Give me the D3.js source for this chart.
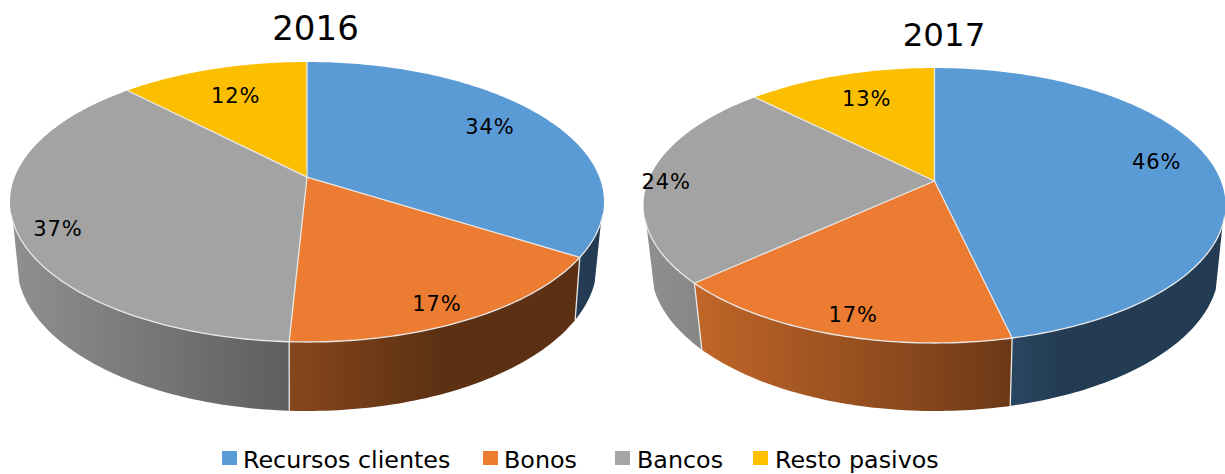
<!DOCTYPE html>
<html><head><meta charset="utf-8">
<script src="https://cdn.jsdelivr.net/npm/d3@7/dist/d3.min.js"></script>
<style>html,body{margin:0;padding:0;background:#fff}svg{display:block}text{font-family:"DejaVu Sans",sans-serif;fill:#000}</style>
</head><body>
<svg id="c" width="1225" height="474"></svg>
<script>
const categories = ["Recursos clientes","Bonos","Bancos","Resto pasivos"];
const values2016 = [34.0,16.8,37.0,12.2];
const values2017 = [46.4,16.8,24.3,12.5];
const colors = ["#5A9AD5","#EB7C31","#A3A3A3","#FCBE00"];
const legendColors = ["#5B9BD5","#ED7D31","#A5A5A5","#FFC000"];

const layouts = [
 {title:"2016", values:values2016, titleX:315.5, titleY:40, titleSize:34,
  top:{cx:307,cy:202,rx:297,ry:140,e:-0.178}, bottom:{cx:307,cy:264,rx:290,ry:147,e:-0.195},
  labels:[[.78,-1.9],[.884,1.8],[.874,-3.6],[.73,0]]},
 {title:"2017", values:values2017, titleX:944, titleY:46, titleSize:32.5,
  top:{cx:934.5,cy:205.5,rx:291,ry:137.5,e:-0.178}, bottom:{cx:935,cy:268,rx:284,ry:143,e:-0.17},
  labels:[[.811,-4.3],[.885,-1.5],[.936,-1.6],[.743,1.5]]}
];
const legendLayout = [{sq:222,tx:243},{sq:483,tx:504},{sq:615,tx:637},{sq:753,tx:775}];

const svg = d3.select("#c");
const defs = svg.append("defs");
const RAD = Math.PI/180;
const visFrom = 108.2*RAD, visTo = 251.8*RAD;
const edge = "#e8e8e8";

function project(g,a,r=1){
  const x=r*Math.sin(a), y=-r*Math.cos(a), d=1+g.e*y;
  return [g.cx+g.rx*x*Math.sqrt(1-g.e*g.e)/d, g.cy+g.ry*(y+g.e)/d];
}
const line=d3.line();
function arcPts(g,a0,a1){
  const n=Math.max(2,Math.ceil(Math.abs(a1-a0)/RAD));
  return d3.range(n+1).map(i=>project(g,a0+(a1-a0)*i/n));
}
const shade=d3.scaleLinear().domain([0,.47,.72,1]).range([.87,.57,.39,.39]);

layouts.forEach((L,li)=>{
  const arcs=d3.pie().sort(null).value(d=>d)(L.values);
  const x0=L.top.cx-L.top.rx, w=2*L.top.rx;
  legendColors.forEach((c,i)=>{
    const gr=defs.append("linearGradient").attr("id",`w${li}-${i}`).attr("gradientUnits","userSpaceOnUse")
      .attr("x1",x0).attr("x2",x0+w).attr("y1",0).attr("y2",0);
    [0,.47,.72,1].forEach(t=>{
      const k=shade(t), q=d3.rgb(c);
      gr.append("stop").attr("offset",t).attr("stop-color",d3.rgb(q.r*k,q.g*k,q.b*k).formatHex());
    });
  });
  const gp=svg.append("g");
  arcs.forEach((d,i)=>{
    const a0=Math.max(d.startAngle,visFrom), a1=Math.min(d.endAngle,visTo);
    if(a1<=a0) return;
    const pts=arcPts(L.top,a0,a1).concat(arcPts(L.bottom,a1,a0));
    gp.append("path").attr("d",line(pts)+"Z").attr("fill",`url(#w${li}-${i})`);
  });
  arcs.forEach(d=>{
    const a=d.startAngle;
    if(a<visFrom||a>visTo) return;
    gp.append("path").attr("d",line([project(L.top,a),project(L.bottom,a)]))
      .attr("stroke",edge).attr("stroke-width",1.3).attr("fill","none");
  });
  arcs.forEach((d,i)=>{
    const pts=[project(L.top,0,0)].concat(arcPts(L.top,d.startAngle,d.endAngle));
    gp.append("path").attr("d",line(pts)+"Z").attr("fill",colors[i]);
  });
  arcs.forEach(d=>{
    gp.append("path").attr("d",line([project(L.top,0,0),project(L.top,d.startAngle)]))
      .attr("stroke",edge).attr("stroke-width",1.3).attr("fill","none");
  });
  gp.append("path").attr("d",line(arcPts(L.top,visFrom-3*RAD,visTo+3*RAD)))
    .attr("stroke",edge).attr("stroke-width",1.3).attr("fill","none");
  arcs.forEach((d,i)=>{
    const [r,sh]=L.labels[i];
    const p=project(L.top,(d.startAngle+d.endAngle)/2+sh*RAD,r);
    gp.append("text").attr("x",p[0]).attr("y",p[1]).attr("dy","0.36em").attr("text-anchor","middle")
      .attr("font-size",21).attr("letter-spacing",0.9).text(Math.round(d.value)+"%");
  });
  svg.append("text").attr("x",L.titleX).attr("y",L.titleY).attr("text-anchor","middle")
    .attr("font-size",L.titleSize).text(L.title);
});

categories.forEach((c,i)=>{
  svg.append("rect").attr("x",legendLayout[i].sq).attr("y",451).attr("width",15).attr("height",14).attr("fill",legendColors[i]);
  svg.append("text").attr("x",legendLayout[i].tx).attr("y",468).attr("font-size",23.8).text(c);
});
</script>
</body></html>
